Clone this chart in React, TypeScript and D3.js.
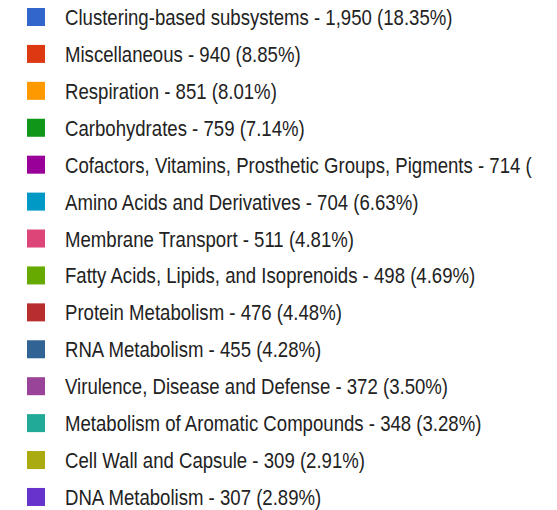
import React from "react";
import * as d3 from "d3";

const categories = [
  "Clustering-based subsystems",
  "Miscellaneous",
  "Respiration",
  "Carbohydrates",
  "Cofactors, Vitamins, Prosthetic Groups, Pigments",
  "Amino Acids and Derivatives",
  "Membrane Transport",
  "Fatty Acids, Lipids, and Isoprenoids",
  "Protein Metabolism",
  "RNA Metabolism",
  "Virulence, Disease and Defense",
  "Metabolism of Aromatic Compounds",
  "Cell Wall and Capsule",
  "DNA Metabolism",
];
const counts = [1950, 940, 851, 759, 714, 704, 511, 498, 476, 455, 372, 348, 309, 307];
const percents = ["18.35%", "8.85%", "8.01%", "7.14%", "", "6.63%", "4.81%", "4.69%", "4.48%", "4.28%", "3.50%", "3.28%", "2.91%", "2.89%"];
const colors = ["#3366cc", "#dc3912", "#ff9900", "#109618", "#990099", "#0099c6", "#dd4477", "#66aa00", "#b82e2e", "#316395", "#994499", "#22aa99", "#aaaa11", "#6633cc"];

const W = 557;
const H = 510;

export default function App() {
  const pitch = 36.92;
  const y = d3
    .scaleLinear()
    .domain([0, categories.length - 1])
    .range([8, 8 + pitch * (categories.length - 1)]);
  const fmt = d3.format(",");
  const sx = 0.865;
  return (
    <svg width={W} height={H} style={{ position: "absolute", left: 0, top: 0, background: "#fff" }}>
      {categories.map((c, i) => {
        const top = y(i);
        const label = percents[i]
          ? `${c} - ${fmt(counts[i])} (${percents[i]})`
          : `${c} - ${fmt(counts[i])} (`;
        return (
          <g key={c}>
            <rect x={27} y={top} width={18} height={18} fill={colors[i]} />
            <g transform={`translate(65,${top + 17}) scale(${sx},1)`}>
              <text
                x={0}
                y={0}
                fontFamily="Liberation Sans, Arial, sans-serif"
                fontSize={21.5}
                fill="#222"
              >
                {label}
              </text>
            </g>
          </g>
        );
      })}
    </svg>
  );
}
